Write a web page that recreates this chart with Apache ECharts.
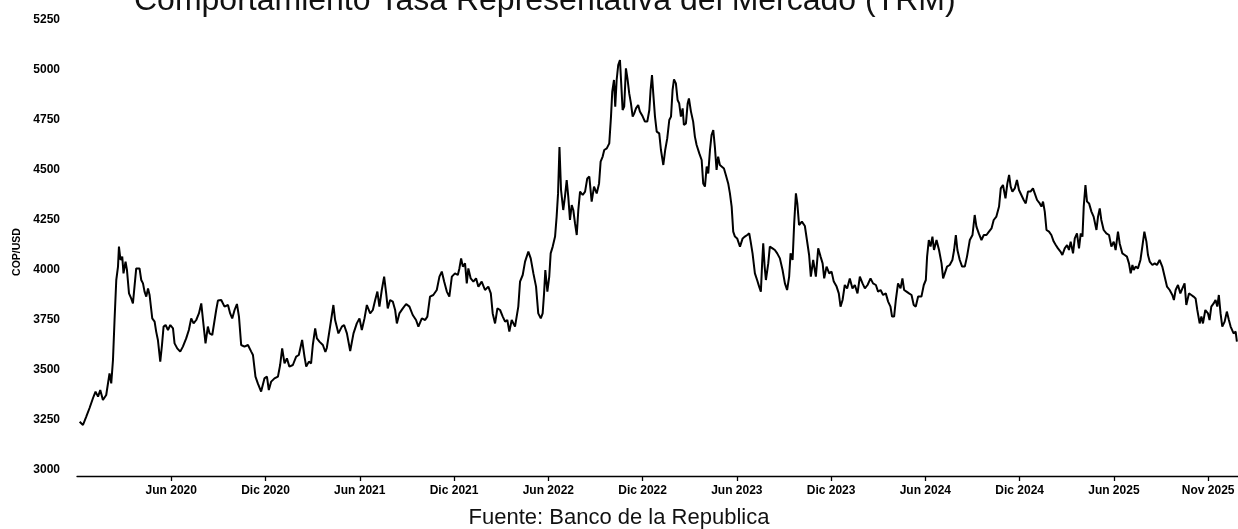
<!DOCTYPE html>
<html>
<head>
<meta charset="utf-8">
<script src="https://cdn.jsdelivr.net/npm/echarts@6/dist/echarts.min.js"></script>
<style>
html,body{margin:0;padding:0;background:#fff;}
#chart{width:1238px;height:529px;}
</style>
</head>
<body>
<div id="chart"></div>
<script>
// x: months elapsed since the start of January 2020
const t = [
0.17,0.38,0.59,0.80,1.02,1.18,1.34,1.48,1.65,1.86,
2.07,2.18,2.29,2.39,2.50,2.61,2.67,2.77,2.88,2.96,
3.09,3.18,3.31,3.45,3.56,3.66,3.77,3.98,4.09,4.20,
4.30,4.41,4.52,4.62,4.79,4.94,5.04,5.15,5.30,5.41,
5.51,5.64,5.79,5.94,6.11,6.21,6.38,6.57,6.74,6.95,
7.12,7.27,7.42,7.59,7.76,7.91,8.02,8.18,8.33,8.44,
8.61,8.69,8.86,8.97,9.18,9.39,9.61,9.75,9.88,10.03,
10.18,10.31,10.45,10.66,10.88,11.09,11.20,11.36,11.51,11.72,
11.93,12.09,12.21,12.36,12.57,12.79,12.93,13.06,13.21,13.36,
13.52,13.74,13.95,14.12,14.33,14.48,14.59,14.76,14.90,15.01,
15.16,15.27,15.43,15.65,15.81,15.90,16.11,16.32,16.43,16.64,
16.86,17.00,17.18,17.39,17.60,17.81,17.98,18.13,18.30,18.45,
18.66,18.83,18.98,19.12,19.25,19.40,19.55,19.68,19.78,19.93,
20.10,20.25,20.36,20.52,20.74,20.95,21.16,21.37,21.58,21.73,
21.95,22.16,22.30,22.47,22.68,22.90,23.07,23.22,23.37,23.54,
23.70,23.86,24.06,24.24,24.34,24.45,24.56,24.70,24.81,24.91,
25.06,25.23,25.40,25.55,25.76,25.97,26.18,26.34,26.46,26.61,
26.76,26.93,27.10,27.25,27.39,27.52,27.67,27.88,28.09,28.20,
28.37,28.52,28.73,28.88,29.05,29.22,29.36,29.52,29.64,29.73,
29.81,29.94,30.06,30.15,30.28,30.43,30.53,30.62,30.71,30.81,
30.95,31.06,31.17,31.27,31.38,31.49,31.59,31.70,31.81,31.91,
32.02,32.19,32.34,32.48,32.61,32.76,32.91,33.08,33.23,33.33,
33.46,33.56,33.72,33.88,33.99,34.07,34.18,34.26,34.35,34.45,
34.56,34.64,34.73,34.83,34.94,35.05,35.15,35.26,35.37,35.47,
35.58,35.72,35.83,36.01,36.15,36.30,36.43,36.51,36.60,36.68,
36.79,36.90,37.06,37.17,37.32,37.44,37.57,37.70,37.81,37.91,
38.00,38.12,38.23,38.33,38.44,38.55,38.63,38.76,38.87,38.95,
39.08,39.22,39.33,39.44,39.61,39.76,39.86,39.97,40.08,40.18,
40.29,40.39,40.50,40.60,40.71,40.81,40.92,41.03,41.18,41.30,
41.45,41.56,41.67,41.77,41.88,42.02,42.20,42.37,42.51,42.66,
42.79,42.88,43.00,43.15,43.29,43.42,43.53,43.61,43.68,43.77,
43.85,44.00,44.10,44.27,44.42,44.57,44.74,44.91,45.06,45.20,
45.33,45.42,45.55,45.65,45.76,45.85,45.96,46.14,46.33,46.48,
46.60,46.71,46.86,47.03,47.18,47.33,47.46,47.56,47.71,47.88,
48.03,48.17,48.35,48.49,48.60,48.73,48.87,49.02,49.19,49.36,
49.51,49.68,49.83,50.00,50.15,50.32,50.51,50.67,50.85,50.99,
51.15,51.31,51.48,51.63,51.78,51.88,52.01,52.12,52.26,52.42,
52.54,52.65,52.80,52.96,53.12,53.26,53.39,53.54,53.75,53.90,
54.03,54.11,54.22,54.33,54.45,54.55,54.71,54.87,55.03,55.13,
55.24,55.38,55.55,55.72,55.83,55.94,56.04,56.19,56.34,56.51,
56.65,56.83,57.00,57.14,57.25,57.40,57.57,57.72,57.89,58.05,
58.21,58.35,58.52,58.69,58.80,58.94,59.10,59.22,59.33,59.43,
59.54,59.69,59.83,59.96,60.11,60.26,60.39,60.53,60.69,60.85,
60.96,61.11,61.28,61.39,61.49,61.60,61.71,61.87,62.02,62.17,
62.30,62.44,62.60,62.72,62.87,63.02,63.14,63.25,63.40,63.51,
63.65,63.78,63.89,64.00,64.08,64.19,64.29,64.42,64.57,64.71,
64.89,64.99,65.10,65.20,65.35,65.52,65.69,65.84,65.99,66.11,
66.26,66.37,66.54,66.69,66.83,66.96,67.07,67.18,67.26,67.39,
67.53,67.69,67.81,67.94,68.07,68.17,68.28,68.45,68.60,68.74,
68.91,69.08,69.23,69.38,69.55,69.72,69.82,69.93,70.08,70.23,
70.36,70.50,70.61,70.78,70.93,71.07,71.20,71.31,71.46,71.57,
71.67,71.82,71.99,72.09,72.20,72.35,72.47,72.58,72.68,72.79,
72.90,73.05,73.19,73.32,73.43,73.54,73.62,73.75,73.83
];

// TRM, COP per USD
const trm = [
3241,3225,3267,3310,3360,3392,3367,3400,3350,3375,
3483,3433,3550,3750,3950,4017,4117,4050,4067,3983,
4042,4000,3883,3858,3833,3917,4008,4008,3950,3933,
3892,3867,3908,3875,3758,3742,3692,3650,3542,3625,
3717,3725,3700,3725,3708,3633,3608,3592,3617,3658,
3700,3758,3733,3750,3783,3833,3750,3633,3717,3683,
3675,3667,3800,3847,3850,3817,3825,3783,3758,3800,
3830,3767,3625,3617,3625,3592,3575,3467,3433,3392,
3458,3467,3400,3442,3458,3467,3525,3608,3533,3558,
3517,3525,3567,3575,3650,3567,3517,3542,3533,3625,
3708,3658,3642,3625,3590,3610,3717,3825,3750,3683,
3717,3725,3683,3595,3683,3733,3758,3700,3758,3825,
3783,3800,3850,3892,3817,3900,3967,3883,3808,3850,
3842,3800,3733,3783,3808,3830,3817,3775,3750,3717,
3758,3750,3767,3867,3875,3900,3967,3992,3942,3892,
3867,3967,3983,3975,4008,4058,4017,4033,3933,4008,
3958,3942,3958,3917,3942,3900,3917,3883,3783,3733,
3808,3800,3767,3742,3750,3692,3750,3717,3817,3942,
3975,4042,4092,4058,3983,3917,3783,3758,3783,3883,
4000,3892,3967,4083,4117,4167,4267,4383,4615,4400,
4300,4367,4450,4367,4250,4325,4300,4233,4175,4300,
4392,4375,4392,4458,4467,4342,4417,4383,4433,4542,
4567,4600,4608,4633,4767,4892,4950,4817,4950,5025,
5050,4933,4800,4817,5008,4950,4883,4833,4767,4783,
4808,4825,4792,4767,4742,4742,4800,4900,4975,4883,
4767,4692,4683,4600,4525,4600,4658,4750,4767,4900,
4953,4933,4850,4833,4767,4808,4725,4733,4833,4858,
4792,4742,4667,4625,4583,4550,4433,4417,4517,4483,
4600,4675,4700,4617,4500,4567,4525,4533,4508,4475,
4433,4383,4317,4192,4167,4158,4117,4158,4167,4175,
4183,4142,4083,3983,3950,3917,3892,4033,4133,4017,
3950,4033,4117,4108,4100,4083,4058,4000,3933,3900,
3967,4083,4050,4233,4383,4333,4225,4242,4220,4140,
4075,3967,4050,3967,4108,4067,4033,3958,4017,3983,
3992,3942,3917,3883,3817,3850,3925,3908,3958,3908,
3925,3883,3967,3933,3908,3925,3958,3933,3925,3892,
3900,3875,3883,3842,3817,3767,3767,3850,3933,3908,
3958,3900,3892,3883,3875,3825,3817,3867,3867,3925,
3950,4067,4150,4117,4167,4100,4150,4100,4033,3958,
3950,4017,4025,4050,4100,4175,4100,4050,4017,4017,
4067,4150,4175,4275,4217,4183,4150,4175,4175,4192,
4208,4250,4267,4317,4408,4425,4358,4433,4475,4417,
4392,4408,4450,4400,4375,4350,4333,4392,4392,4408,
4400,4350,4333,4317,4342,4292,4200,4192,4175,4142,
4125,4108,4092,4075,4108,4125,4100,4142,4083,4158,
4183,4108,4183,4167,4317,4425,4342,4333,4292,4267,
4200,4267,4308,4250,4200,4183,4175,4117,4142,4100,
4192,4133,4083,4075,4067,4033,3983,4025,4000,4017,
4008,4050,4117,4192,4142,4075,4042,4025,4033,4025,
4050,4017,3967,3917,3900,3875,3850,3900,3925,3883,
3908,3933,3825,3883,3875,3867,3858,3800,3733,3767,
3733,3800,3783,3750,3817,3833,3850,3817,3875,3783,
3717,3742,3792,3750,3717,3725,3683,3692,3642
];

const tickMonths = [6,12,18,24,30,36,42,48,54,60,66,72];
const tickLabels = ['Jun 2020','Dic 2020','Jun 2021','Dic 2021','Jun 2022','Dic 2022',
                    'Jun 2023','Dic 2023','Jun 2024','Dic 2024','Jun 2025','Nov 2025'];

const titleText = 'Comportamiento Tasa Representativa del Mercado (TRM)';
const sourceText = 'Fuente: Banco de la Republica';
const yName = 'COP/USD';

const chart = echarts.init(document.getElementById('chart'), null, {renderer: 'canvas'});
const font = "'Liberation Sans', Arial, sans-serif";

chart.setOption({
  animation: false,
  backgroundColor: '#fff',
  title: [
    {
      text: titleText,
      left: 134,
      top: -15,
      padding: 0,
      textStyle: {fontFamily: font, fontSize: 32, fontWeight: 'normal', color: '#111'}
    },
    {
      text: sourceText,
      left: 'center',
      top: 507,
      padding: 0,
      textStyle: {fontFamily: font, fontSize: 22, fontWeight: 'normal', color: '#111'}
    }
  ],
  grid: {left: 77, right: 0, top: 20, bottom: 59, containLabel: false},
  xAxis: {
    type: 'value',
    min: 0,
    max: 73.9,
    offset: 6,
    axisLine: {show: true, onZero: false, lineStyle: {color: '#000', width: 1.3}},
    axisTick: {show: true, customValues: tickMonths, length: 5, lineStyle: {color: '#000', width: 1.3}},
    axisLabel: {
      customValues: tickMonths,
      formatter: v => tickLabels[tickMonths.indexOf(v)] || '',
      fontFamily: font, fontSize: 12, fontWeight: 'bold', color: '#000', margin: 9
    },
    splitLine: {show: false}
  },
  yAxis: {
    type: 'value',
    min: 3000,
    max: 5250,
    interval: 250,
    name: yName,
    nameLocation: 'middle',
    nameGap: 48,
    nameRotate: 90,
    nameTextStyle: {fontFamily: font, fontSize: 10.5, fontWeight: 'bold', color: '#000', padding: [0, 14, 0, 0]},
    axisLine: {show: false},
    axisTick: {show: false},
    splitLine: {show: false},
    axisLabel: {
      formatter: v => String(v),
      fontFamily: font, fontSize: 12, fontWeight: 'bold', color: '#000', margin: 17
    }
  },
  series: [{
    type: 'line',
    data: t.map((m, i) => [m, trm[i]]),
    showSymbol: false,
    symbol: 'none',
    lineStyle: {color: '#000', width: 2},
    itemStyle: {color: '#000'}
  }]
});
</script>
</body>
</html>
